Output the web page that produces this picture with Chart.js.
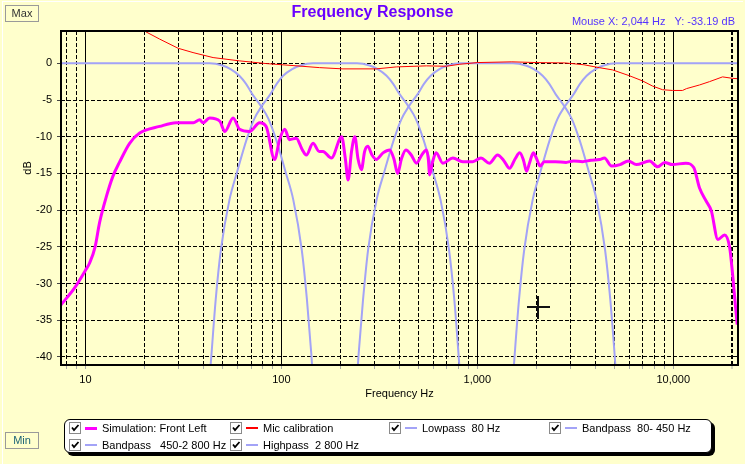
<!DOCTYPE html>
<html>
<head>
<meta charset="utf-8">
<script src="https://cdn.jsdelivr.net/npm/chart.js@4.4.1/dist/chart.umd.min.js"></script>
<style>
html, body { margin: 0; padding: 0; }
body { width: 745px; height: 464px; background: #ffffcc; position: relative; overflow: hidden;
       font-family: "Liberation Sans", Arial, sans-serif; }
#chart { position: absolute; left: 0; top: 0; }
.edgeT { position: absolute; left: 2px; top: 1px; width: 741px; height: 1px; background: #fff; }
.edgeL { position: absolute; left: 2px; top: 1px; width: 1px; height: 463px; background: #fff; }
#title { position: absolute; left: 0; top: 3px; width: 745px; text-align: center; line-height: 18px;
         font-size: 16px; font-weight: bold; color: #6a00ff; }
#mouse { position: absolute; right: 10px; top: 15px; font-size: 11px; line-height: 13px; color: #5533ff; white-space: pre; }
.btn { position: absolute; left: 5px; width: 32px; height: 15px; border: 1px solid #9a9a9a; font-size: 11px;
       line-height: 15px; text-align: center; }
#ylab { position: absolute; left: 27px; top: 168px; transform: translate(-50%, -50%) rotate(-90deg);
        font-size: 11px; color: #000; }
#legend { position: absolute; left: 64px; top: 419px; width: 646px; height: 32px; background: #fff;
          border: 1px solid #000; border-radius: 6px; box-shadow: 3px 3px 0 #000; }
.item { position: absolute; height: 14px; display: flex; align-items: center; font-size: 11px; color: #000; white-space: pre; }
.cb { width: 10px; height: 10px; border: 1px solid #8a8a8a; background: #fff; margin-right: 4px; position: relative; }
.cb svg { position: absolute; left: 0; top: 0; }
.sw { width: 12px; margin-right: 5px; }
</style>
</head>
<body>
<canvas id="chart" width="745" height="464"></canvas>
<div class="edgeT"></div><div class="edgeL"></div>
<div id="title">Frequency Response</div>
<div id="mouse"></div>
<div class="btn" style="top:5px;color:#333">Max</div>
<div class="btn" style="top:432px;color:#1d6577">Min</div>
<div id="ylab">dB</div>
<div id="legend"></div>
<script>
// axis range and ticks
const freqMin = 7.5, freqMax = 21400;
const dbMin = -41.1, dbMax = 4.4;
const xTicks = [8, 9, 10, 20, 30, 40, 50, 60, 70, 80, 90, 100, 200, 300, 400, 500, 600, 700, 800, 900,
  1000, 2000, 3000, 4000, 5000, 6000, 7000, 8000, 9000, 10000, 20000];
const xDecades = [10, 100, 1000, 10000];
const yTicks = [-40, -35, -30, -25, -20, -15, -10, -5, 0];

// mouse read-out
const mouseHz = 2044, mouseDb = -33.19;

// series [Hz, dB]
const simulation = [[7.5,-32.9],[8.8,-30.6],[10,-28.2],[10.5,-27.2],[11.2,-25],[11.8,-21.7],[12.8,-18.1],
  [13.8,-15.4],[14.9,-13.5],[16.8,-10.9],[18.9,-9.5],[23.9,-8.6],[29,-8.1],[35.5,-8.1],[38.3,-7.7],[39.8,-8.1],
  [43,-7.45],[48.5,-7.9],[51.4,-9.3],[56.7,-7.45],[61.2,-9],[68.8,-9.3],[77.4,-8.1],[83.6,-8.6],[92.3,-13.1],
  [97.9,-10.4],[104,-9],[110,-10.4],[119,-10.2],[128,-11.8],[134,-12.5],[145,-10.9],[156,-12],[163,-12],
  [180,-12.9],[203,-10],[212,-13],[219,-15.9],[228,-12],[237,-10],[246,-13],[256,-14.5],[266,-12],[276,-11.3],
  [290,-12.5],[305,-13.1],[330,-12.2],[357,-11.8],[375,-13],[392,-15],[410,-13],[432,-11.8],[460,-12.5],
  [489,-13.6],[520,-12.5],[550,-11.8],[562,-13],[571,-15.2],[590,-13.5],[616,-12.2],[667,-13.6],[750,-12.9],
  [843,-13.4],[948,-13.4],[1044,-12.9],[1152,-13.6],[1268,-12.5],[1360,-13.2],[1460,-14.3],[1560,-13],
  [1645,-12.2],[1720,-13.2],[1783,-14.7],[1850,-13.5],[1931,-12.2],[2000,-12.9],[2091,-14],[2199,-13.4],
  [2500,-13.4],[2837,-13.5],[3100,-13.3],[3442,-13.4],[3800,-13.2],[4207,-13.1],[4455,-12.9],[4840,-14],
  [5350,-13.8],[5900,-13.3],[6480,-13.8],[7560,-13.3],[8330,-14.1],[9040,-13.5],[9900,-13.8],[11580,-13.6],
  [12720,-14.2],[13620,-17],[14740,-18.8],[15640,-20.1],[16900,-24],[18270,-23.4],[19400,-25.1],[20090,-28.8],
  [20520,-31.5],[21200,-35.6]];

const micCal = [[19,5.2],[20.3,4.3],[23.9,3.3],[29.7,2.05],[35.4,1.46],[44.8,0.78],[61.2,0.33],[83.7,-0.04],
  [114.6,-0.31],[156.7,-0.59],[206,-0.76],[305,-0.76],[386,-0.49],[550,-0.35],[695,-0.4],[813,-0.13],[1000,0.1],
  [1500,0.2],[2000,0.1],[2800,0.05],[3500,-0.2],[4207,-0.6],[4900,-0.9],[5980,-1.7],[6970,-2.4],[7840,-3.1],
  [8820,-3.6],[9910,-3.7],[11150,-3.7],[11680,-3.45],[13620,-2.95],[15310,-2.5],[17850,-1.85],[20080,-2.05],
  [21400,-2.1]];

const lowpass80 = [[7.5,0],[43,0],[50,-0.3],[55,-0.8],[61,-1.7],[66,-2.8],[71,-4.2],[79,-5.9],[86,-7.6],
  [94,-10.4],[105,-14.8],[115,-18.6],[127,-25.4],[135,-32.2],[142,-39.5],[145,-43]];

const band80to450 = [[43,-43],[44,-39.5],[46.2,-32.2],[49.1,-25.4],[54.3,-18.6],[59.4,-14.8],[66.4,-10.4],
  [72.6,-7.6],[79,-5.9],[87.9,-4.2],[94.6,-2.8],[102,-1.7],[113.5,-0.8],[125,-0.3],[145,0],
  [243,0],[282,-0.3],[310,-0.8],[344,-1.7],[372,-2.8],[401,-4.2],[446,-5.9],[486,-7.6],[531,-10.4],
  [593,-14.8],[649,-18.6],[717,-25.4],[763,-32.2],[801,-39.5],[818,-43]];

const band450to2800 = [[243,-43],[248,-39.5],[261,-32.2],[277,-25.4],[306,-18.6],[335,-14.8],[375,-10.4],
  [410,-7.6],[446,-5.9],[496,-4.2],[534,-2.8],[578,-1.7],[641,-0.8],[705,-0.3],[820,0],
  [1518,0],[1766,-0.3],[1942,-0.8],[2154,-1.7],[2330,-2.8],[2508,-4.2],[2790,-5.9],[3038,-7.6],[3320,-10.4],
  [3711,-14.8],[4062,-18.6],[4486,-25.4],[4771,-32.2],[5014,-39.5],[5120,-43]];

const highpass2800 = [[1520,-43],[1553,-39.5],[1632,-32.2],[1735,-25.4],[1916,-18.6],[2098,-14.8],[2345,-10.4],
  [2562,-7.6],[2790,-5.9],[3103,-4.2],[3341,-2.8],[3614,-1.7],[4009,-0.8],[4408,-0.3],[5129,0],[21400,0]];

const seriesLabels = ['Simulation: Front Left', 'Mic calibration', 'Lowpass  80 Hz', 'Bandpass  80- 450 Hz',
  'Bandpass   450-2 800 Hz', 'Highpass  2 800 Hz'];
const seriesData = [simulation, micCal, lowpass80, band80to450, band450to2800, highpass2800];
const seriesColors = ['#ff00ff', '#ff0000', '#a3a3f7', '#a3a3f7', '#a3a3f7', '#a3a3f7'];
const seriesWidths = [3, 1, 2, 2, 2, 2];

document.getElementById('mouse').textContent =
  'Mouse X: ' + mouseHz.toLocaleString('en-US') + ' Hz   Y: ' + mouseDb.toFixed(2) + ' dB';

Chart.defaults.font.family = '"Liberation Sans", Arial, sans-serif';
Chart.defaults.font.size = 11;
Chart.defaults.color = '#000';

const framePlugin = {
  id: 'frame',
  afterDatasetsDraw(chart) {
    const {ctx, chartArea: a, scales: {x, y}} = chart;
    ctx.save();
    ctx.strokeStyle = '#000';
    ctx.lineWidth = 2;
    ctx.strokeRect(a.left, a.top, a.right - a.left, a.bottom - a.top);
    // mouse crosshair
    const cx = Math.round(x.getPixelForValue(mouseHz)), cy = Math.round(y.getPixelForValue(mouseDb));
    ctx.lineWidth = 2;
    ctx.strokeStyle = '#111';
    ctx.beginPath();
    ctx.moveTo(cx - 11, cy); ctx.lineTo(cx + 12, cy);
    ctx.moveTo(cx, cy - 11); ctx.lineTo(cx, cy + 12);
    ctx.stroke();
    ctx.restore();
  }
};

const chart = new Chart(document.getElementById('chart'), {
  type: 'line',
  data: {
    datasets: seriesData.map((d, i) => ({
      label: seriesLabels[i],
      data: d.map(p => ({x: p[0], y: p[1]})),
      borderColor: seriesColors[i],
      borderWidth: seriesWidths[i],
      pointRadius: 0,
      fill: false,
      cubicInterpolationMode: i === 1 ? 'default' : 'monotone',
      tension: 0
    }))
  },
  options: {
    responsive: false,
    animation: false,
    devicePixelRatio: 1,
    layout: { padding: { top: 31, right: 7, left: 0, bottom: 0 } },
    plugins: { legend: { display: false }, tooltip: { enabled: false } },
    scales: {
      x: {
        type: 'logarithmic',
        min: freqMin, max: freqMax,
        afterFit: s => { s.height = 99; },
        afterBuildTicks: s => { s.ticks = xTicks.map(v => ({ value: v })); },
        ticks: {
          autoSkip: false, maxRotation: 0, minRotation: 0, padding: 4, color: '#000',
          callback: v => xDecades.includes(v) ? v.toLocaleString('en-US') : ''
        },
        grid: {
          color: '#000',
          lineWidth: c => (c.tick && c.tick.value === 20000) ? 2 : 1,
          tickLength: 4,
          tickColor: '#a8a8a8',
          tickWidth: 1
        },
        border: { display: false, dash: c => (c.tick && xDecades.includes(c.tick.value)) ? [] : [4, 2] },
        title: { display: true, text: 'Frequency Hz', color: '#000', padding: { top: 0, bottom: 63 } }
      },
      y: {
        min: dbMin, max: dbMax,
        afterFit: s => { s.width = 61; },
        afterBuildTicks: s => { s.ticks = yTicks.map(v => ({ value: v })); },
        ticks: { padding: 5, color: '#000' },
        grid: { color: '#000', tickLength: 4, tickColor: '#444' },
        border: { display: false, dash: [4, 2] }
      }
    }
  },
  plugins: [framePlugin]
});

// legend with check boxes
const legendEl = document.getElementById('legend');
const colX = [4, 165, 324, 484], rowY = [1, 18];
chart.data.datasets.forEach((ds, i) => {
  const item = document.createElement('div');
  item.className = 'item';
  item.style.left = colX[i % 4] + 'px';
  item.style.top = rowY[Math.floor(i / 4)] + 'px';
  item.innerHTML =
    '<span class="cb"><svg width="10" height="10" viewBox="0 0 10 10"><polyline points="2,4.5 4,7 8.5,2" ' +
    'fill="none" stroke="#000" stroke-width="1.8"/></svg></span>' +
    '<span class="sw" style="background:' + ds.borderColor + ';height:' + Math.max(2, ds.borderWidth) + 'px"></span>' +
    '<span class="tx"></span>';
  item.querySelector('.tx').textContent = ds.label;
  legendEl.appendChild(item);
});
</script>
</body>
</html>
